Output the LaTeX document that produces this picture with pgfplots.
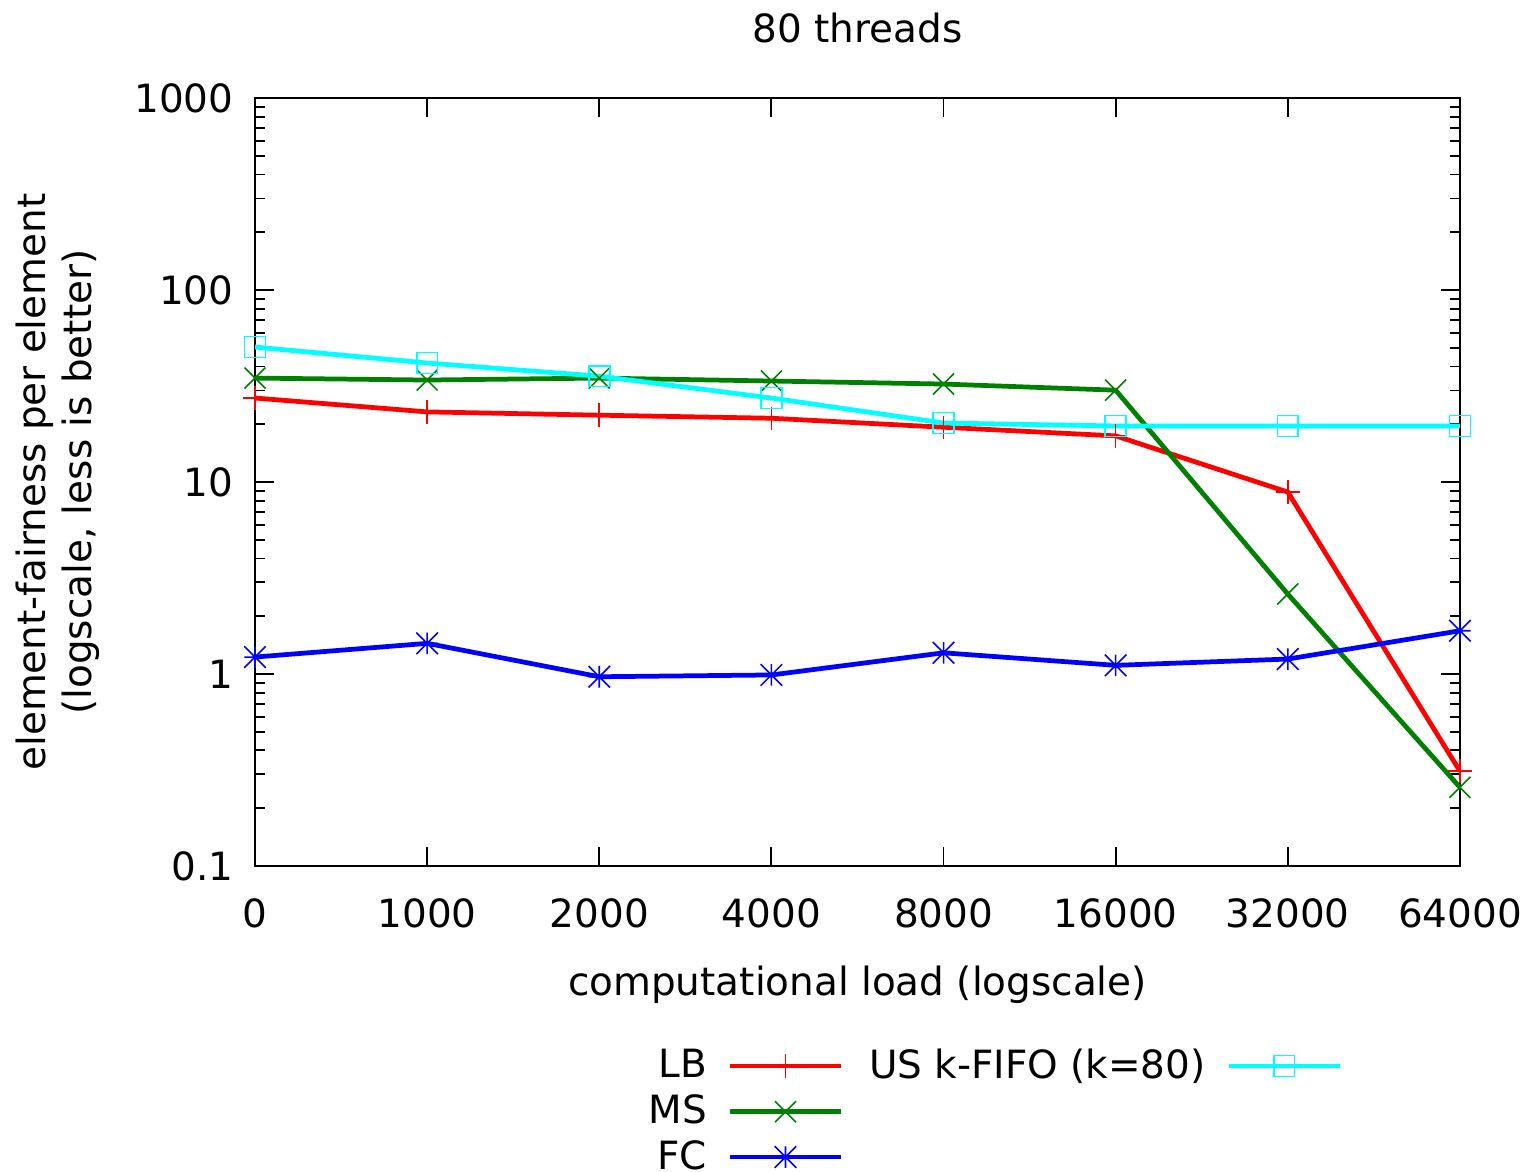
\documentclass[border=0pt]{standalone}
\usepackage{fontspec}
\setmainfont{DejaVu Sans}
\usepackage{pgfplots}
\pgfplotsset{compat=1.18}
\definecolor{gred}{RGB}{255,0,0}
\definecolor{ggreen}{RGB}{0,128,0}
\definecolor{gblue}{RGB}{0,0,255}
\definecolor{gcyan}{RGB}{0,255,255}
\pgfdeclareplotmark{starx}{%
  \pgfpathmoveto{\pgfqpoint{-\pgfplotmarksize}{0pt}}%
  \pgfpathlineto{\pgfqpoint{\pgfplotmarksize}{0pt}}%
  \pgfpathmoveto{\pgfqpoint{0pt}{-\pgfplotmarksize}}%
  \pgfpathlineto{\pgfqpoint{0pt}{\pgfplotmarksize}}%
  \pgfpathmoveto{\pgfqpoint{-\pgfplotmarksize}{-\pgfplotmarksize}}%
  \pgfpathlineto{\pgfqpoint{\pgfplotmarksize}{\pgfplotmarksize}}%
  \pgfpathmoveto{\pgfqpoint{-\pgfplotmarksize}{\pgfplotmarksize}}%
  \pgfpathlineto{\pgfqpoint{\pgfplotmarksize}{-\pgfplotmarksize}}%
  \pgfusepathqstroke}
\pgfplotsset{
  lbstyle/.style={gred, line width=1.5pt, mark=+, mark size=3.7pt, mark options={solid, line width=0.5pt}},
  msstyle/.style={ggreen, line width=1.5pt, mark=x, mark size=4.7pt, mark options={solid, line width=0.5pt}},
  fcstyle/.style={gblue, line width=1.5pt, mark=starx, mark size=3.4pt, mark options={solid, line width=0.5pt}},
  usstyle/.style={gcyan, line width=1.5pt, mark=square, mark size=3.3pt, mark options={solid, line width=0.5pt}},
}
\begin{document}
\begin{tikzpicture}[font=\fontsize{12.3}{14.6}\selectfont]
\begin{axis}[
  name=ax,
  scale only axis,
  width=380.8pt, height=242.7pt,
  ymode=log,
  xmin=0, xmax=7, ymin=0.1, ymax=1000,
  xtick={0,1,2,3,4,5,6,7},
  xticklabels={0,1000,2000,4000,8000,16000,32000,64000},
  ytick={0.1,1,10,100,1000},
  yticklabels={0.1,1,10,100,1000},
  minor ytick={0.2,0.3,0.4,0.5,0.6,0.7,0.8,0.9,2,3,4,5,6,7,8,9,20,30,40,50,60,70,80,90,200,300,400,500,600,700,800,900},
  /pgf/number format/assume math mode=true,
  tick align=inside,
  major tick length=6pt,
  minor tick length=3pt,
  tick style={black, line width=0.6pt},
  axis line style={line width=0.8pt},
  xticklabel style={anchor=base, yshift=-19.3pt},
  yticklabel style={anchor=east, xshift=-3.3pt},
  every axis title shift=0pt,
  title={80 threads},
  title style={at={(axis description cs:0.5,1)}, anchor=base, yshift=17.7pt, inner sep=0pt},
  xlabel={computational load (logscale)},
  xlabel style={at={(axis description cs:0.5,0)}, anchor=base, yshift=-40.8pt, inner sep=0pt},
  ylabel={element-fairness per element\\(logscale, less is better)},
  ylabel style={at={(axis description cs:-0.1286,0.5)}, anchor=south, align=center, inner sep=0pt},
  legend plot pos=right,
  legend cell align=right,
  legend columns=2,
  legend image code/.code={%
    \path (0pt,0pt);
    \draw[#1, mark repeat=2, mark phase=2] plot coordinates {(6.6pt,0pt) (24.1pt,0pt) (41.6pt,0pt)};
    \path (49.8pt,0pt);},
  legend style={at={(axis description cs:0.3261,-0.229)}, anchor=north west, draw=none, fill=none,
    row sep=-0.3pt, column sep=0pt, inner sep=0pt,
    nodes={inner xsep=0pt, inner ysep=2pt}},
]
\addplot[lbstyle, forget plot] coordinates {
(0,27.4) (1,23.2) (2,22.3) (3,21.5) (4,19.3) (5,17.4) (6,8.87) (7,0.312)};
\addplot[msstyle, forget plot] coordinates {
(0,34.8) (1,34.0) (2,34.8) (3,33.6) (4,32.4) (5,30.1) (6,2.61) (7,0.257)};
\addplot[fcstyle, forget plot] coordinates {
(0,1.226) (1,1.445) (2,0.968) (3,0.989) (4,1.29) (5,1.11) (6,1.197) (7,1.68)};
\addplot[usstyle, forget plot] coordinates {
(0,50.5) (1,41.7) (2,35.6) (3,27.4) (4,20.3) (5,19.6) (6,19.6) (7,19.6)};
\addlegendimage{lbstyle}
\addlegendentry{LB}
\addlegendimage{usstyle}
\addlegendentry{US k-FIFO (k=80)}
\addlegendimage{msstyle}
\addlegendentry{MS}
\addlegendimage{empty legend}
\addlegendentry{}
\addlegendimage{fcstyle}
\addlegendentry{FC}
\end{axis}
\pgfresetboundingbox
\path[use as bounding box] ([xshift=-80.6pt,yshift=-96.7pt]ax.south west) rectangle ([xshift=21.2pt,yshift=31pt]ax.north east);
\end{tikzpicture}
\end{document}
